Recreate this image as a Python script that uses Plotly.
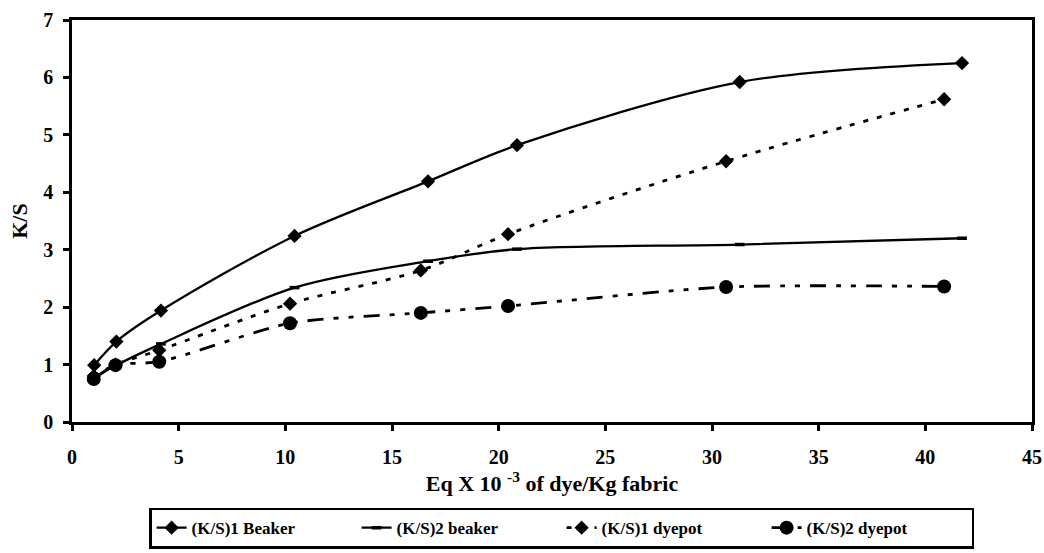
import plotly.graph_objects as go

# Dye concentration (Eq x 10^-3 of dye / Kg fabric)
conc_beaker = [1.04, 2.08, 4.17, 10.43, 16.69, 20.86, 31.30, 41.72]
conc_dyepot = [1.02, 2.04, 4.09, 10.22, 16.35, 20.44, 30.66, 40.88]

# Colour strength values
ks1_beaker = [0.99, 1.40, 1.94, 3.24, 4.19, 4.82, 5.92, 6.25]
ks2_beaker = [0.78, 0.99, 1.36, 2.34, 2.80, 3.01, 3.09, 3.20]
ks1_dyepot = [0.80, 1.00, 1.25, 2.06, 2.64, 3.27, 4.54, 5.62]
ks2_dyepot = [0.75, 0.99, 1.05, 1.72, 1.90, 2.02, 2.35, 2.36]

FONT = "Liberation Serif, Times New Roman, serif"
BLACK = "#000000"

fig = go.Figure()

fig.add_trace(go.Scatter(
    x=conc_beaker, y=ks1_beaker, name="(K/S)1 Beaker", mode="lines+markers",
    line=dict(color=BLACK, width=2.3, shape="spline", smoothing=0.9),
    marker=dict(symbol="diamond", size=11, color=BLACK),
))
fig.add_trace(go.Scatter(
    x=conc_beaker, y=ks2_beaker, name="(K/S)2 beaker", mode="lines+markers",
    line=dict(color=BLACK, width=2.3, shape="spline", smoothing=0.9),
    marker=dict(symbol="line-ew", size=7, color=BLACK,
                line=dict(color=BLACK, width=3.5)),
))
fig.add_trace(go.Scatter(
    x=conc_dyepot, y=ks1_dyepot, name="(K/S)1 dyepot", mode="lines+markers",
    line=dict(color=BLACK, width=2.8, shape="spline", smoothing=0.9,
              dash="5px,9px"),
    marker=dict(symbol="diamond", size=11, color=BLACK),
))
fig.add_trace(go.Scatter(
    x=conc_dyepot, y=ks2_dyepot, name="(K/S)2 dyepot", mode="lines+markers",
    line=dict(color=BLACK, width=2.8, shape="spline", smoothing=0.7,
              dash="16px,10px,5px,10px,5px,10px"),
    marker=dict(symbol="circle", size=14, color=BLACK),
))

axis_common = dict(
    showgrid=False, zeroline=False, automargin=False,
    showline=True, linecolor=BLACK, linewidth=2.5, mirror=True,
    ticks="outside", ticklen=6, tickwidth=2.5, tickcolor=BLACK,
    tickfont=dict(family=FONT, size=20, color=BLACK, weight="bold"),
)

fig.update_xaxes(
    range=[0, 45], tickmode="linear", tick0=0, dtick=5,
    ticklabelstandoff=9,
    title=dict(text="Eq X 10 <sup>-3</sup> of dye/Kg fabric",
               font=dict(family=FONT, size=22, color=BLACK, weight="bold"),
               standoff=8),
    **axis_common,
)
fig.update_yaxes(
    range=[0, 7], tickmode="linear", tick0=0, dtick=1,
    ticklabelstandoff=6,
    title=dict(text="K/S",
               font=dict(family=FONT, size=22, color=BLACK, weight="bold"),
               standoff=10),
    **axis_common,
)

fig.update_layout(
    width=1044, height=553,
    margin=dict(l=72, r=12, t=20, b=131),
    plot_bgcolor="white", paper_bgcolor="white",
    font=dict(family=FONT, color=BLACK),
    legend=dict(
        orientation="h", x=0.51, xanchor="center",
        yref="container", y=0.008, yanchor="bottom",
        bordercolor=BLACK, borderwidth=2.5, bgcolor="white",
        font=dict(family=FONT, size=17, color=BLACK, weight="bold"),
        itemwidth=30, entrywidth=160, tracegroupgap=0,
    ),
)

fig.write_html("out.html")
